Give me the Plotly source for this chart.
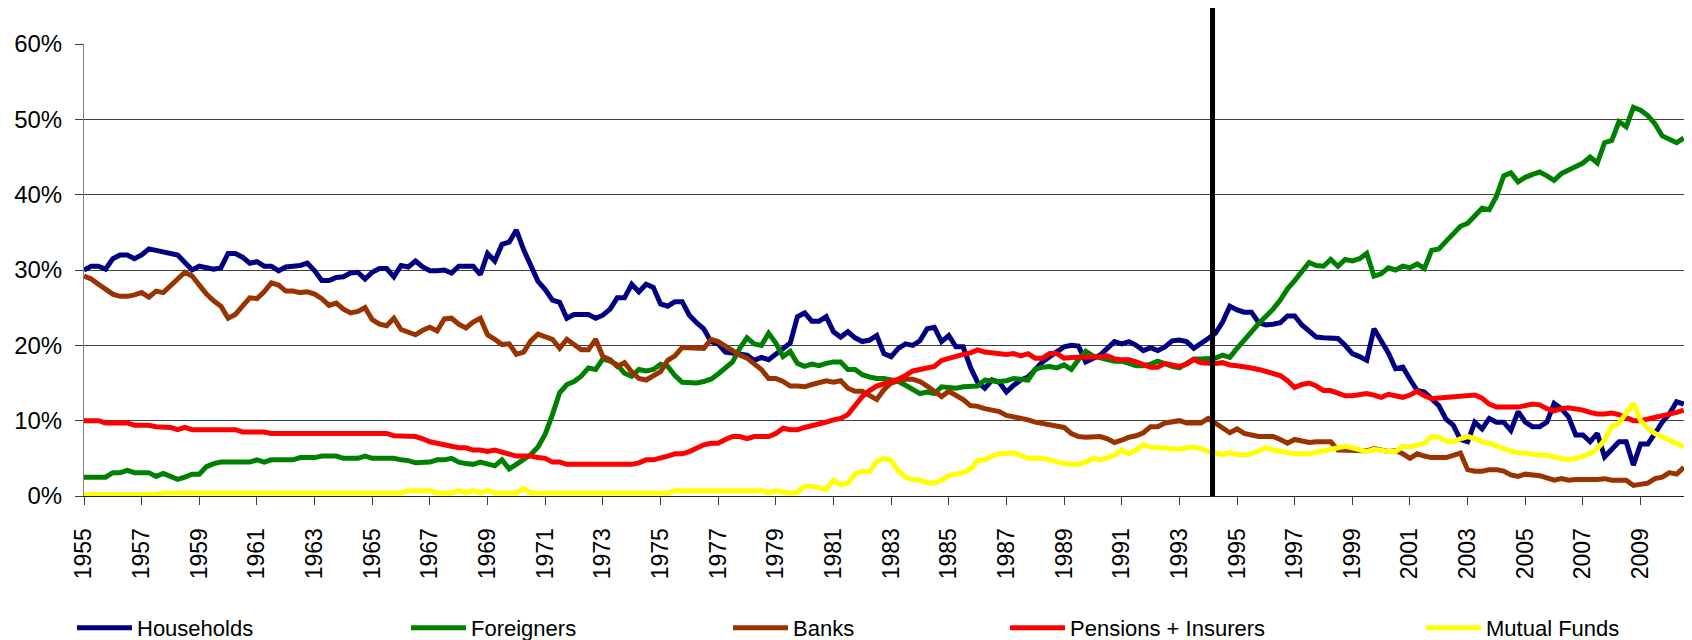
import plotly.graph_objects as go

# ---------------- data (quarterly shares of equity ownership, %) ----------------
start_year = 1955
n_quarters = 223  # 1955 Q1 .. 2010 Q3
quarters = [f"{start_year + i // 4} Q{i % 4 + 1}" for i in range(n_quarters)]

households = [
    30.0, 30.5, 30.5, 30.1, 31.5, 32.0, 32.0, 31.5, 32.0, 32.8,
    32.6, 32.4, 32.3, 32.0, 31.0, 30.0, 30.5, 30.3, 30.1, 30.3,
    32.2, 32.2, 31.7, 30.9, 31.1, 30.5, 30.5, 29.9, 30.4, 30.5,
    30.6, 30.9, 29.9, 28.6, 28.6, 29.0, 29.1, 29.6, 29.7, 28.8,
    29.7, 30.2, 30.2, 29.1, 30.6, 30.4, 31.2, 30.4, 29.9, 29.9,
    30.0, 29.6, 30.5, 30.5, 30.5, 29.4, 32.2, 31.2, 33.4, 33.7,
    35.3, 32.7, 30.5, 28.5, 27.4, 26.0, 25.7, 23.6, 24.1, 24.1,
    24.1, 23.6, 24.0, 24.8, 26.3, 26.3, 28.1, 27.1, 28.1, 27.7,
    25.5, 25.2, 25.8, 25.8, 24.0, 23.0, 22.2, 20.5, 20.2, 19.1,
    19.0, 18.9, 18.7, 18.0, 18.4, 18.1, 18.9, 19.6, 20.3, 23.8,
    24.3, 23.2, 23.2, 23.8, 21.8, 21.1, 21.8, 21.0, 20.5, 20.7,
    21.3, 18.9, 18.5, 19.6, 20.2, 20.0, 20.6, 22.2, 22.4, 20.5,
    21.3, 19.8, 19.8, 17.1, 15.1, 14.3, 15.4, 15.1, 13.8, 14.7,
    15.4, 15.8, 16.9, 17.8, 18.5, 19.1, 19.8, 20.0, 19.9, 17.8,
    18.2, 18.7, 19.6, 20.5, 20.2, 20.5, 20.0, 19.3, 19.7, 19.3,
    19.8, 20.6, 20.7, 20.5, 19.6, 20.2, 20.9, 21.6, 23.1, 25.2,
    24.7, 24.4, 24.4, 23.0, 22.7, 22.8, 23.0, 23.9, 23.9, 22.7,
    21.8, 21.1, 21.0, 21.0, 20.9, 20.0, 18.9, 18.5, 18.0, 22.2,
    20.5, 19.0, 16.9, 17.1, 15.5, 14.0, 13.8, 13.0, 12.0, 10.2,
    9.4, 7.5, 7.2, 9.8, 8.9, 10.3, 9.8, 9.8, 8.7, 11.2,
    9.8, 9.2, 9.2, 9.8, 12.3, 11.6, 10.5, 8.1, 8.1, 7.2,
    8.3, 5.2, 6.3, 7.2, 7.2, 4.1, 6.9, 6.9, 8.3, 9.8,
    10.9, 12.5, 12.2,
]

foreigners = [
    2.5, 2.5, 2.5, 2.5, 3.1, 3.1, 3.4, 3.1, 3.1, 3.1,
    2.6, 3.0, 2.6, 2.2, 2.5, 2.9, 2.9, 3.9, 4.3, 4.5,
    4.5, 4.5, 4.5, 4.5, 4.8, 4.5, 4.8, 4.8, 4.8, 4.8,
    5.1, 5.1, 5.1, 5.3, 5.3, 5.3, 5.0, 5.0, 5.0, 5.3,
    5.0, 5.0, 5.0, 5.0, 4.8, 4.7, 4.4, 4.4, 4.5, 4.8,
    4.8, 5.0, 4.5, 4.3, 4.2, 4.5, 4.3, 4.0, 4.8, 3.6,
    4.2, 4.8, 5.5, 6.5, 8.2, 10.8, 13.7, 14.8, 15.2, 15.9,
    17.0, 16.8, 18.2, 17.9, 17.4, 16.3, 15.9, 16.8, 16.6, 16.8,
    17.5, 17.2, 16.0, 15.1, 15.0, 15.0, 15.2, 15.5, 16.2, 17.0,
    17.8, 19.6, 21.0, 20.2, 20.0, 21.6, 20.3, 18.5, 19.2, 17.6,
    17.2, 17.5, 17.3, 17.6, 17.8, 17.8, 16.8, 16.8, 16.1, 15.8,
    15.6, 15.6, 15.4, 15.2, 14.7, 14.2, 13.6, 13.8, 13.6, 14.5,
    14.4, 14.3, 14.5, 14.5, 14.6, 15.4, 15.3, 15.2, 15.3, 15.6,
    15.5, 15.4, 16.8, 17.1, 17.2, 17.0, 17.4, 16.8, 18.1, 19.2,
    18.6, 18.3, 18.1, 17.9, 17.9, 17.6, 17.3, 17.3, 17.5, 17.9,
    17.5, 17.2, 17.0, 17.6, 18.2, 18.2, 18.2, 18.3, 18.7, 18.4,
    19.6, 20.8, 21.8, 22.9, 23.8, 24.8, 26.0, 27.5, 28.6, 29.9,
    31.0, 30.6, 30.5, 31.4, 30.5, 31.4, 31.2, 31.5, 32.2, 29.2,
    29.5, 30.3, 30.0, 30.5, 30.3, 30.8, 30.2, 32.6, 32.8, 33.8,
    34.7, 35.8, 36.2, 37.3, 38.2, 38.0, 39.8, 42.5, 42.9, 41.7,
    42.3, 42.7, 43.0, 42.5, 41.9, 42.8, 43.3, 43.8, 44.2, 45.0,
    44.2, 46.9, 47.2, 49.7, 49.0, 51.6, 51.2, 50.5, 49.4, 47.8,
    47.3, 46.9, 47.5,
]

banks = [
    29.2, 28.8, 28.1, 27.5, 26.8, 26.5, 26.5, 26.7, 27.0, 26.4,
    27.2, 27.0, 28.0, 28.8, 29.7, 29.2, 28.0, 26.8, 25.9, 25.2,
    23.6, 24.1, 25.2, 26.3, 26.2, 27.1, 28.3, 28.0, 27.2, 27.2,
    27.0, 27.1, 26.8, 26.2, 25.3, 25.6, 24.8, 24.3, 24.5, 25.0,
    23.4, 22.8, 22.6, 23.6, 22.1, 21.7, 21.4, 22.0, 22.4, 21.9,
    23.5, 23.6, 22.8, 22.3, 23.1, 23.6, 21.4, 20.8, 20.1, 20.2,
    18.8, 19.1, 20.6, 21.5, 21.2, 20.8, 19.6, 20.8, 20.1, 19.4,
    19.4, 20.8, 18.5, 18.1, 17.2, 17.7, 16.5, 15.6, 15.4, 15.9,
    16.5, 18.0, 18.6, 19.7, 19.7, 19.7, 19.6, 20.8, 20.5, 19.9,
    19.2, 18.7, 18.3, 17.6, 16.8, 15.6, 15.6, 15.2, 14.6, 14.6,
    14.5, 14.8, 15.0, 15.3, 15.1, 15.3, 14.3, 13.9, 13.9, 13.4,
    12.8, 14.1, 15.0, 15.3, 15.5, 15.5, 15.2, 14.6, 13.9, 13.2,
    13.9, 13.4, 12.8, 12.0, 11.9, 11.6, 11.4, 11.2, 10.7, 10.5,
    10.4, 10.1, 9.8, 9.6, 9.4, 9.2, 9.1, 8.3, 7.9, 7.8,
    7.8, 7.9, 7.6, 7.1, 7.4, 7.8, 8.0, 8.4, 9.2, 9.2,
    9.7, 9.8, 10.0, 9.7, 9.7, 9.7, 10.3, 9.7, 9.0, 8.4,
    8.9, 8.3, 8.1, 7.9, 7.9, 7.9, 7.5, 7.0, 7.5, 7.3,
    7.1, 7.2, 7.2, 7.2, 6.1, 6.1, 6.1, 6.1, 6.0, 6.3,
    6.1, 5.9, 6.0, 5.6, 5.0, 5.6, 5.3, 5.1, 5.1, 5.1,
    5.4, 5.7, 3.5, 3.3, 3.3, 3.5, 3.5, 3.3, 2.8, 2.6,
    2.9, 2.8, 2.7, 2.4, 2.1, 2.3, 2.1, 2.2, 2.2, 2.1,
    2.2, 2.3, 2.1, 2.1, 2.1, 1.4, 1.6, 1.7, 2.3, 2.5,
    3.1, 2.9, 3.8,
]

pensions_insurers = [
    10.0, 10.0, 10.0, 9.7, 9.7, 9.7, 9.7, 9.4, 9.4, 9.4,
    9.2, 9.2, 9.1, 8.8, 9.1, 8.8, 8.8, 8.8, 8.8, 8.8,
    8.8, 8.8, 8.5, 8.5, 8.5, 8.5, 8.3, 8.3, 8.3, 8.3,
    8.3, 8.3, 8.3, 8.3, 8.3, 8.3, 8.3, 8.3, 8.3, 8.3,
    8.3, 8.3, 8.3, 8.0, 8.0, 8.0, 7.9, 7.6, 7.2, 7.0,
    6.8, 6.5, 6.4, 6.4, 6.1, 6.1, 5.9, 6.1, 5.8, 5.6,
    5.3, 5.3, 5.3, 5.1, 5.0, 4.5, 4.5, 4.2, 4.2, 4.2,
    4.2, 4.2, 4.2, 4.2, 4.2, 4.2, 4.2, 4.4, 4.8, 4.8,
    5.0, 5.3, 5.6, 5.6, 5.9, 6.4, 6.8, 7.0, 7.0, 7.5,
    7.9, 7.9, 7.6, 7.9, 7.9, 7.9, 8.3, 9.0, 8.8, 8.8,
    9.1, 9.3, 9.6, 9.8, 10.1, 10.3, 10.8, 11.9, 13.2, 14.0,
    14.6, 14.9, 15.2, 15.5, 16.0, 16.6, 16.8, 17.0, 17.2, 18.0,
    18.3, 18.6, 18.8, 19.0, 19.4, 19.1, 19.0, 18.9, 18.8, 18.9,
    18.6, 18.9, 18.3, 18.3, 18.9, 18.9, 18.3, 18.4, 18.4, 18.4,
    18.4, 18.5, 18.6, 18.2, 18.1, 18.1, 17.8, 17.4, 17.1, 17.1,
    17.6, 17.4, 17.2, 17.5, 18.1, 17.7, 17.6, 17.6, 17.7, 17.4,
    17.3, 17.2, 17.0, 16.8, 16.5, 16.3, 16.0, 15.3, 14.4, 14.8,
    15.0, 14.6, 14.0, 14.0, 13.6, 13.3, 13.3, 13.5, 13.6, 13.4,
    13.1, 13.5, 13.3, 13.1, 13.4, 13.9, 13.3, 12.9, 13.0, 13.1,
    13.1, 13.2, 13.3, 13.4, 13.0, 12.2, 11.8, 11.8, 11.8, 11.8,
    12.0, 12.2, 12.1, 11.6, 11.3, 11.6, 11.7, 11.6, 11.4, 11.1,
    10.9, 10.9, 11.0, 10.8, 10.4, 10.0, 10.0, 10.2, 10.4, 10.6,
    10.8, 11.1, 11.4,
]

mutual_funds = [
    0.2, 0.2, 0.2, 0.2, 0.2, 0.2, 0.2, 0.2, 0.2, 0.2,
    0.2, 0.4, 0.4, 0.4, 0.4, 0.4, 0.4, 0.4, 0.4, 0.4,
    0.4, 0.4, 0.4, 0.4, 0.4, 0.4, 0.4, 0.4, 0.4, 0.4,
    0.4, 0.4, 0.4, 0.4, 0.4, 0.4, 0.4, 0.4, 0.4, 0.4,
    0.4, 0.4, 0.4, 0.4, 0.4, 0.7, 0.7, 0.7, 0.7, 0.4,
    0.4, 0.4, 0.7, 0.4, 0.7, 0.4, 0.7, 0.4, 0.4, 0.4,
    0.4, 1.0, 0.4, 0.4, 0.4, 0.4, 0.4, 0.4, 0.4, 0.4,
    0.4, 0.4, 0.4, 0.4, 0.4, 0.4, 0.4, 0.4, 0.4, 0.4,
    0.4, 0.4, 0.7, 0.7, 0.7, 0.7, 0.7, 0.7, 0.7, 0.7,
    0.7, 0.7, 0.7, 0.7, 0.7, 0.4, 0.7, 0.5, 0.4, 0.5,
    1.3, 1.3, 1.1, 0.9, 2.1, 1.5, 1.7, 2.9, 3.3, 3.2,
    4.6, 5.0, 4.7, 3.3, 2.5, 2.2, 2.1, 1.8, 1.7, 2.1,
    2.7, 2.9, 3.1, 3.6, 4.7, 4.8, 5.3, 5.6, 5.6, 5.7,
    5.4, 5.0, 5.0, 5.0, 4.8, 4.5, 4.3, 4.2, 4.2, 4.5,
    5.0, 4.8, 5.1, 5.4, 6.1, 5.6, 6.1, 6.8, 6.5, 6.4,
    6.3, 6.3, 6.2, 6.4, 6.5, 6.3, 5.9, 5.7, 5.5, 5.8,
    5.5, 5.4, 5.6, 6.0, 6.4, 6.1, 5.9, 5.8, 5.6, 5.6,
    5.6, 5.8, 6.0, 6.1, 6.3, 6.6, 6.4, 6.2, 5.9, 6.2,
    6.0, 5.9, 5.9, 6.6, 6.5, 6.7, 7.0, 7.9, 7.8, 7.3,
    7.2, 7.6, 7.9, 7.6, 7.2, 7.0, 6.6, 6.3, 6.0, 5.7,
    5.7, 5.5, 5.4, 5.4, 5.2, 5.0, 4.8, 5.0, 5.3, 5.6,
    6.3, 7.4, 9.2, 9.7, 11.0, 12.3, 10.0, 9.0, 8.3, 7.8,
    7.4, 7.0, 6.5,
]

series_names = ["Households", "Foreigners", "Banks", "Pensions + Insurers", "Mutual Funds"]
series_values = [households, foreigners, banks, pensions_insurers, mutual_funds]
series_colors = ["#000080", "#008000", "#993300", "#FF0000", "#FFFF00"]

tick_years = list(range(1955, 2010, 2))
tick_quarters = [f"{y} Q1" for y in tick_years]
tick_labels = [str(y) for y in tick_years]

y_ticks = [0, 10, 20, 30, 40, 50, 60]
y_tick_labels = [f"{v}%" for v in y_ticks]

marker_year = 1994.15  # vertical black reference line

for v in series_values:
    assert len(v) == n_quarters, len(v)

# ---------------- figure ----------------
OFF = 8   # default body margin of the page
FONT = "Liberation Sans, Arial, sans-serif"
W, H = 1692 - OFF, 640 - OFF
PLOT_L, PLOT_R, PLOT_T, PLOT_B = 84, 1686, 44, 496   # window pixels
ML, MR = PLOT_L - OFF, W - (PLOT_R - OFF)
MT, MB = PLOT_T - OFF, H - (PLOT_B - OFF)
plot_w = PLOT_R - PLOT_L
plot_h = PLOT_B - PLOT_T

fig = go.Figure()

legend_left_px = [79, 413, 735, 1012, 1428]   # window pixels, start of legend line
legend_ids = ["legend", "legend2", "legend3", "legend4", "legend5"]

for name, vals, col, lid in zip(series_names, series_values, series_colors, legend_ids):
    fig.add_trace(go.Scatter(
        x=quarters, y=vals, name=name, mode="lines",
        line=dict(color=col, width=5),
        legend=lid, hoverinfo="skip",
    ))

legend_y = (PLOT_B - 628) / plot_h

layout_legends = {}
for lid, px in zip(legend_ids, legend_left_px):
    layout_legends[lid] = dict(
        x=(px - PLOT_L - 7) / plot_w, xanchor="left",
        y=legend_y, yanchor="middle",
        orientation="h", bgcolor="rgba(0,0,0,0)", borderwidth=0,
        font=dict(family=FONT, size=22, color="black"),
        itemwidth=55,
    )

marker_idx = (marker_year - start_year) * 4
fig.add_shape(
    type="line", xref="x", yref="paper",
    x0=marker_idx, x1=marker_idx, y0=0, y1=(PLOT_B - 8) / plot_h,
    line=dict(color="black", width=5), layer="above",
)

fig.update_layout(
    width=W, height=H,
    margin=dict(l=ML, r=MR, t=MT, b=MB, pad=0, autoexpand=False),
    paper_bgcolor="white", plot_bgcolor="white",
    font=dict(family=FONT, color="black"),
    showlegend=True,
    **layout_legends,
)

fig.update_xaxes(
    type="category", categoryorder="array", categoryarray=quarters,
    range=[0, 222.3], automargin=False,
    tickmode="array", tickvals=tick_quarters, ticktext=tick_labels,
    tickangle=-90, tickfont=dict(family=FONT, size=23, color="black"),
    ticks="outside", ticklen=8, tickcolor="#404040", tickwidth=1,
    showline=True, linecolor="#202020", linewidth=1,
    showgrid=False, zeroline=False,
    ticklabelstandoff=14,
)

fig.update_yaxes(
    range=[0, 60], automargin=False,
    tickmode="array", tickvals=y_ticks, ticktext=y_tick_labels,
    tickfont=dict(family=FONT, size=24, color="black"),
    ticks="outside", ticklen=8, tickcolor="#404040", tickwidth=1,
    showline=True, linecolor="#808080", linewidth=1,
    showgrid=True, gridcolor="#404040", gridwidth=1,
    zeroline=False,
    ticklabelstandoff=8,
)

fig.write_html("out.html")
